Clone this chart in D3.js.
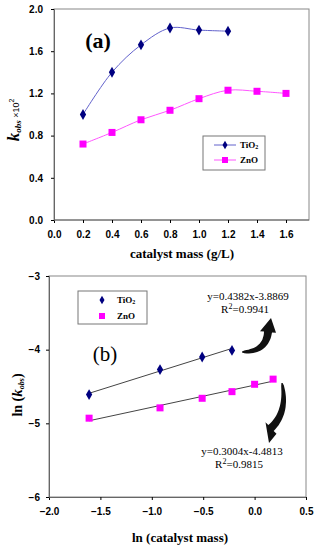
<!DOCTYPE html>
<html lang="en">
<head>
<meta charset="UTF-8">
<title>kobs vs catalyst mass</title>
<script src="https://d3js.org/d3.v7.min.js"></script>
<style>
  body { margin: 0; background: #fff; }
  .tick text { font-family: "Liberation Sans", Arial, sans-serif; font-weight: bold; font-size: 10px; fill: #000; }
  .serif { font-family: "Liberation Serif", "Times New Roman", serif; }
</style>
</head>
<body>
<svg width="319" height="550"></svg>
<script>
// panel (a): kobs x 10^2 vs catalyst mass
var massTiO2 = [0.2, 0.4, 0.6, 0.8, 1.0, 1.2];
var kTiO2 = [1.00, 1.40, 1.66, 1.82, 1.80, 1.79];
var massZnO = [0.2, 0.4, 0.6, 0.8, 1.0, 1.2, 1.4, 1.6];
var kZnO = [0.72, 0.83, 0.95, 1.04, 1.15, 1.23, 1.22, 1.20];
var xTicksA = [0, 0.2, 0.4, 0.6, 0.8, 1.0, 1.2, 1.4, 1.6];
var yTicksA = [0, 0.4, 0.8, 1.2, 1.6, 2.0];

// panel (b): ln(kobs) vs ln(catalyst mass)
var lnMassTiO2 = [-1.61, -0.92, -0.51, -0.22];
var lnkTiO2 = [-4.61, -4.27, -4.10, -4.01];
var lnMassZnO = [-1.61, -0.92, -0.51, -0.22, 0.0, 0.18];
var lnkZnO = [-4.93, -4.79, -4.66, -4.57, -4.47, -4.40];
var fitTiO2 = { slope: 0.4382, icpt: -3.8869, r2: "0.9941" };
var fitZnO = { slope: 0.3004, icpt: -4.4813, r2: "0.9815" };
var xTicksB = [-2.0, -1.5, -1.0, -0.5, 0.0, 0.5];
var yTicksB = [-3, -4, -5, -6];

var svg = d3.select("svg");
var navy = "#000080", mag = "#ff00ff";

// ---------- panel (a) ----------
var xa = d3.scaleLinear().domain([0, 1.6]).range([54, 286]);
var ya = d3.scaleLinear().domain([0, 2.0]).range([220, 9]);
var ga = svg.append("g");

ga.append("rect").attr("x", 54).attr("y", 9).attr("width", 255).attr("height", 211)
  .attr("fill", "none").attr("stroke", "#888");

ga.append("g").attr("transform", "translate(0,220)")
  .call(d3.axisBottom(xa).tickValues(xTicksA).tickFormat(d3.format(".1f")).tickSize(3).tickPadding(8))
  .call(function(g) { g.select(".domain").attr("d", "M54,0H309").attr("stroke", "#666"); });
ga.append("g").attr("transform", "translate(54,0)")
  .call(d3.axisLeft(ya).tickValues(yTicksA).tickFormat(d3.format(".1f")).tickSize(3).tickPadding(8))
  .call(function(g) { g.select(".domain").attr("stroke", "#666"); });

var lineA = d3.line().curve(d3.curveCatmullRom.alpha(0.5))
  .x(function(d) { return xa(d[0]); }).y(function(d) { return ya(d[1]); });
var tiA = d3.zip(massTiO2, kTiO2), znA = d3.zip(massZnO, kZnO);

ga.append("path").datum(tiA).attr("d", lineA).attr("fill", "none").attr("stroke", "#6262cc").attr("stroke-width", 1);
ga.append("path").datum(znA).attr("d", lineA).attr("fill", "none").attr("stroke", "#ff55ff").attr("stroke-width", 1);

var diamond = d3.symbol().type(d3.symbolDiamond).size(34);
ga.selectAll(".dt").data(tiA).enter().append("path")
  .attr("d", diamond).attr("fill", navy)
  .attr("transform", function(d) { return "translate(" + xa(d[0]) + "," + ya(d[1]) + ")"; });
ga.selectAll(".sz").data(znA).enter().append("rect")
  .attr("x", function(d) { return xa(d[0]) - 3.5; }).attr("y", function(d) { return ya(d[1]) - 3.5; })
  .attr("width", 7).attr("height", 7).attr("fill", mag);

// legend (a)
var la = ga.append("g");
la.append("rect").attr("x", 203).attr("y", 136).attr("width", 62).attr("height", 34)
  .attr("fill", "#fff").attr("stroke", "#777");
la.append("line").attr("x1", 214).attr("x2", 236).attr("y1", 145).attr("y2", 145).attr("stroke", "#6262cc");
la.append("path").attr("d", d3.symbol().type(d3.symbolDiamond).size(22)).attr("fill", navy)
  .attr("transform", "translate(225,145)");
la.append("line").attr("x1", 214).attr("x2", 236).attr("y1", 160).attr("y2", 160).attr("stroke", "#ff55ff");
la.append("rect").attr("x", 222).attr("y", 157).attr("width", 6).attr("height", 6).attr("fill", mag);
function compName(g, x, y, base, sub) {
  var t = g.append("text").attr("class", "serif").attr("x", x).attr("y", y)
    .attr("font-size", 9).attr("font-weight", "bold");
  t.append("tspan").text(base);
  if (sub) t.append("tspan").attr("font-size", 6).attr("dy", 1).text(sub);
}
compName(la, 240, 148, "TiO", "2");
compName(la, 240, 163, "ZnO");

ga.append("text").attr("class", "serif").attr("x", 98).attr("y", 48)
  .attr("text-anchor", "middle").attr("font-size", 22).attr("font-weight", "bold").text("(a)");

ga.append("text").attr("class", "serif").attr("x", 182).attr("y", 258)
  .attr("text-anchor", "middle").attr("font-size", 13).attr("font-weight", "bold").text("catalyst mass (g/L)");

var yla = ga.append("text").attr("transform", "translate(19,120) rotate(-90)").attr("text-anchor", "middle");
yla.append("tspan").attr("class", "serif").attr("font-size", 17).attr("font-weight", "bold").attr("font-style", "italic").text("k");
yla.append("tspan").attr("class", "serif").attr("font-size", 9).attr("font-weight", "bold").attr("font-style", "italic").attr("dy", 2).text("obs");
yla.append("tspan").attr("font-family", "Liberation Sans, Arial, sans-serif").attr("font-size", 9).attr("dy", -2).text(" \u00d710");
yla.append("tspan").attr("font-family", "Liberation Sans, Arial, sans-serif").attr("font-size", 7).attr("dy", -5).text("2");

// ---------- panel (b) ----------
var xb = d3.scaleLinear().domain([-2.0, 0.5]).range([49, 306]);
var yb = d3.scaleLinear().domain([-6, -3]).range([497, 276]);
var gb = svg.append("g");

gb.append("rect").attr("x", 49).attr("y", 276).attr("width", 257).attr("height", 221)
  .attr("fill", "none").attr("stroke", "#888");
gb.append("g").attr("transform", "translate(0,497)")
  .call(d3.axisBottom(xb).tickValues(xTicksB).tickFormat(d3.format(".1f")).tickSize(3).tickPadding(8))
  .call(function(g) { g.select(".domain").attr("stroke", "#666"); });
gb.append("g").attr("transform", "translate(49,0)")
  .call(d3.axisLeft(yb).tickValues(yTicksB).tickFormat(d3.format("d")).tickSize(3).tickPadding(6))
  .call(function(g) { g.select(".domain").attr("stroke", "#666"); });

function fitLine(fit, xs) {
  var x0 = d3.min(xs), x1 = d3.max(xs);
  gb.append("line")
    .attr("x1", xb(x0)).attr("y1", yb(fit.slope * x0 + fit.icpt))
    .attr("x2", xb(x1)).attr("y2", yb(fit.slope * x1 + fit.icpt))
    .attr("stroke", "#444").attr("stroke-width", 1);
}
fitLine(fitTiO2, lnMassTiO2);
fitLine(fitZnO, lnMassZnO);

gb.selectAll(".db").data(d3.zip(lnMassTiO2, lnkTiO2)).enter().append("path")
  .attr("d", diamond).attr("fill", navy)
  .attr("transform", function(d) { return "translate(" + xb(d[0]) + "," + yb(d[1]) + ")"; });
gb.selectAll(".sb").data(d3.zip(lnMassZnO, lnkZnO)).enter().append("rect")
  .attr("x", function(d) { return xb(d[0]) - 3.5; }).attr("y", function(d) { return yb(d[1]) - 3.5; })
  .attr("width", 7).attr("height", 7).attr("fill", mag);

// legend (b)
var lb = gb.append("g");
lb.append("rect").attr("x", 78).attr("y", 291).attr("width", 69).attr("height", 33)
  .attr("fill", "#fff").attr("stroke", "#777");
lb.append("path").attr("d", d3.symbol().type(d3.symbolDiamond).size(22)).attr("fill", navy)
  .attr("transform", "translate(102,300)");
lb.append("rect").attr("x", 99).attr("y", 313).attr("width", 6).attr("height", 6).attr("fill", mag);
compName(lb, 117, 303, "TiO", "2");
compName(lb, 117, 319, "ZnO");

gb.append("text").attr("class", "serif").attr("x", 105).attr("y", 361)
  .attr("text-anchor", "middle").attr("font-size", 21).text("(b)");

function eqText(x, y, fit) {
  var sign = fit.icpt < 0 ? "-" : "+";
  gb.append("text").attr("class", "serif").attr("x", x).attr("y", y)
    .attr("text-anchor", "middle").attr("font-size", 11)
    .text("y=" + fit.slope.toFixed(4) + "x" + sign + Math.abs(fit.icpt).toFixed(4));
  var t = gb.append("text").attr("class", "serif").attr("x", x - 3).attr("y", y + 13)
    .attr("text-anchor", "middle").attr("font-size", 11);
  t.append("tspan").text("R");
  t.append("tspan").attr("font-size", 8).attr("dy", -4).text("2");
  t.append("tspan").attr("dy", 4).text("=" + fit.r2);
}
eqText(248, 300, fitTiO2);
eqText(242, 455, fitZnO);

// curved block arrows
function blockArrow(tail, ctrl, base, tip, w, hw) {
  var n = 20, left = [], right = [];
  for (var i = 0; i <= n; i++) {
    var t = i / n, u = 1 - t;
    var px = u * u * tail[0] + 2 * u * t * ctrl[0] + t * t * base[0];
    var py = u * u * tail[1] + 2 * u * t * ctrl[1] + t * t * base[1];
    var dx = 2 * u * (ctrl[0] - tail[0]) + 2 * t * (base[0] - ctrl[0]);
    var dy = 2 * u * (ctrl[1] - tail[1]) + 2 * t * (base[1] - ctrl[1]);
    var len = Math.sqrt(dx * dx + dy * dy), nx = -dy / len, ny = dx / len;
    var hwid = w * (0.15 + 0.85 * Math.sqrt(t)) / 2;
    left.push([px + nx * hwid, py + ny * hwid]);
    right.push([px - nx * hwid, py - ny * hwid]);
    if (i === n) { var endN = [nx, ny]; }
  }
  var bl = [base[0] + endN[0] * hw, base[1] + endN[1] * hw];
  var br = [base[0] - endN[0] * hw, base[1] - endN[1] * hw];
  var pts = left.concat([bl, tip, br]).concat(right.reverse());
  gb.append("path").attr("d", "M" + pts.map(function(p) { return p[0].toFixed(1) + "," + p[1].toFixed(1); }).join("L") + "Z")
    .attr("fill", "#111");
}
blockArrow([242, 352], [266, 352], [268, 332], [271, 318], 8, 8);
blockArrow([282, 383], [288, 412], [271, 428], [269, 443], 8, 8);

gb.append("text").attr("class", "serif").attr("x", 180).attr("y", 542)
  .attr("text-anchor", "middle").attr("font-size", 13).attr("font-weight", "bold").text("ln (catalyst mass)");

var ylb = gb.append("text").attr("class", "serif").attr("transform", "translate(22,395) rotate(-90)")
  .attr("text-anchor", "middle").attr("font-weight", "bold").attr("font-size", 14);
ylb.append("tspan").text("ln (");
ylb.append("tspan").attr("font-style", "italic").attr("font-size", 15).text("k");
ylb.append("tspan").attr("font-style", "italic").attr("font-size", 8).attr("dy", 2).text("obs");
ylb.append("tspan").attr("dy", -2).text(")");
</script>
</body>
</html>
